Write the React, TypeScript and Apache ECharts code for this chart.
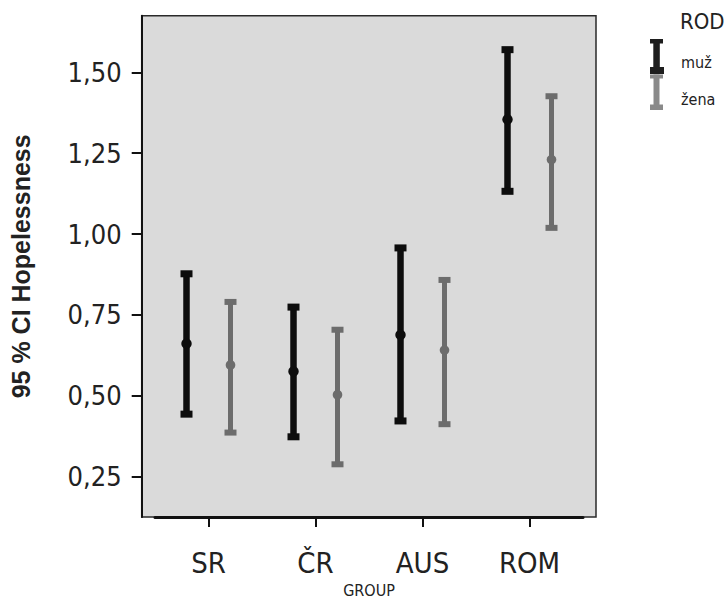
import React, { useEffect, useRef } from "react";
import * as echarts from "echarts";

const groups = ["SR", "ČR", "AUS", "ROM"];
const yTickValues = [0.25, 0.5, 0.75, 1.0, 1.25, 1.5];

const muzLower = [0.443, 0.373, 0.422, 1.132];
const muzMean = [0.661, 0.575, 0.688, 1.354];
const muzUpper = [0.877, 0.774, 0.957, 1.57];

const zenaLower = [0.386, 0.288, 0.412, 1.019];
const zenaMean = [0.595, 0.503, 0.641, 1.23];
const zenaUpper = [0.79, 0.704, 0.858, 1.426];

const FONT = "'Liberation Sans Narrow', 'DejaVu Sans Condensed', 'Liberation Sans', sans-serif";

function makeRender(offset: number, color: string, barW: number, capH: number, r: number) {
  return (params: any, api: any) => {
    const c = api.value(0);
    const pLow = api.coord([c, api.value(1)]);
    const pMean = api.coord([c, api.value(2)]);
    const pHigh = api.coord([c, api.value(3)]);
    const x = pMean[0] + offset;
    const capW = 12;
    return {
      type: "group",
      children: [
        {
          type: "line",
          shape: { x1: x, y1: pHigh[1], x2: x, y2: pLow[1] },
          style: { stroke: color, lineWidth: barW },
        },
        {
          type: "rect",
          shape: { x: x - capW / 2, y: pHigh[1] - capH / 2, width: capW, height: capH },
          style: { fill: color },
        },
        {
          type: "rect",
          shape: { x: x - capW / 2, y: pLow[1] - capH / 2, width: capW, height: capH },
          style: { fill: color },
        },
        {
          type: "circle",
          shape: { cx: x, cy: pMean[1], r },
          style: { fill: color },
        },
      ],
    };
  };
}

export default function App() {
  const ref = useRef<HTMLDivElement>(null);
  useEffect(() => {
    document.body.style.margin = "0";
    const chart = echarts.init(ref.current!, null, { renderer: "svg" });
    const muzData = groups.map((g, i) => [i, muzLower[i], muzMean[i], muzUpper[i]]);
    const zenaData = groups.map((g, i) => [i, zenaLower[i], zenaMean[i], zenaUpper[i]]);
    const fmt = (v: number) => v.toFixed(2).replace(".", ",");
    chart.setOption({
      animation: false,
      backgroundColor: "#ffffff",
      textStyle: { fontFamily: FONT },
      grid: {
        left: 155,
        right: 144,
        top: 15.7,
        bottom: 83,
        containLabel: false,
        outerBoundsMode: "none",
      },
      graphic: [
        {
          type: "rect",
          z: -10,
          shape: { x: 141.7, y: 15.7, width: 454.3, height: 501.3 },
          style: { fill: "#dadada", stroke: "#2a2a2a", lineWidth: 1.5 },
        },
        {
          type: "text",
          x: 680,
          y: 21,
          style: { text: "ROD", font: `22px ${FONT}`, fill: "#222", verticalAlign: "middle" },
        },
        { type: "rect", shape: { x: 650, y: 39, width: 13, height: 4.5 }, style: { fill: "#1e1e1e" } },
        { type: "rect", shape: { x: 653.3, y: 39, width: 6.5, height: 35 }, style: { fill: "#1e1e1e" } },
        { type: "rect", shape: { x: 650, y: 67, width: 14, height: 7 }, style: { fill: "#1e1e1e" } },
        { type: "rect", shape: { x: 650, y: 74.5, width: 13, height: 4 }, style: { fill: "#8a8a8a" } },
        { type: "rect", shape: { x: 653.5, y: 74.5, width: 6, height: 35 }, style: { fill: "#8a8a8a" } },
        { type: "rect", shape: { x: 650, y: 104.5, width: 13, height: 5.5 }, style: { fill: "#8a8a8a" } },
        {
          type: "text",
          x: 681,
          y: 62,
          style: { text: "muž", font: `16px ${FONT}`, fill: "#222", verticalAlign: "middle" },
        },
        {
          type: "text",
          x: 681,
          y: 99,
          style: { text: "žena", font: `16px ${FONT}`, fill: "#222", verticalAlign: "middle" },
        },
      ],
      xAxis: {
        type: "category",
        data: groups,
        boundaryGap: true,
        name: "GROUP",
        nameLocation: "middle",
        nameGap: 65,
        nameTextStyle: { fontSize: 16, color: "#222", fontFamily: FONT },
        axisLine: { show: true, lineStyle: { color: "#111", width: 3 } },
        axisTick: { show: true, alignWithLabel: true, length: 10, lineStyle: { color: "#111", width: 2 } },
        axisLabel: { fontSize: 29, color: "#222", margin: 31, fontFamily: FONT },
        splitLine: { show: false },
      },
      yAxis: {
        type: "value",
        min: 0.125,
        max: 1.675,
        offset: 13.3,
        name: "95 % CI Hopelessness",
        nameLocation: "middle",
        nameGap: 108,
        nameTextStyle: { fontSize: 25, fontWeight: "bold", color: "#222", fontFamily: "'Liberation Sans', sans-serif" },
        axisLine: { show: true, lineStyle: { color: "#111", width: 2 } },
        axisTick: { show: true, length: 10, customValues: yTickValues, lineStyle: { color: "#111", width: 2 } },
        axisLabel: {
          fontSize: 27,
          color: "#222",
          margin: 20,
          fontFamily: FONT,
          customValues: yTickValues,
          formatter: (v: number) => fmt(v),
        },
        splitLine: { show: false },
      },
      series: [
        {
          name: "muž",
          type: "custom",
          renderItem: makeRender(-22, "#0d0d0d", 6.5, 7, 5.2),
          encode: { x: 0, y: [1, 2, 3] },
          data: muzData,
          z: 5,
        },
        {
          name: "žena",
          type: "custom",
          renderItem: makeRender(22, "#6c6c6c", 5, 6, 4.8),
          encode: { x: 0, y: [1, 2, 3] },
          data: zenaData,
          z: 4,
        },
      ],
    });
    return () => chart.dispose();
  }, []);
  return <div ref={ref} style={{ width: 727, height: 600 }} />;
}
